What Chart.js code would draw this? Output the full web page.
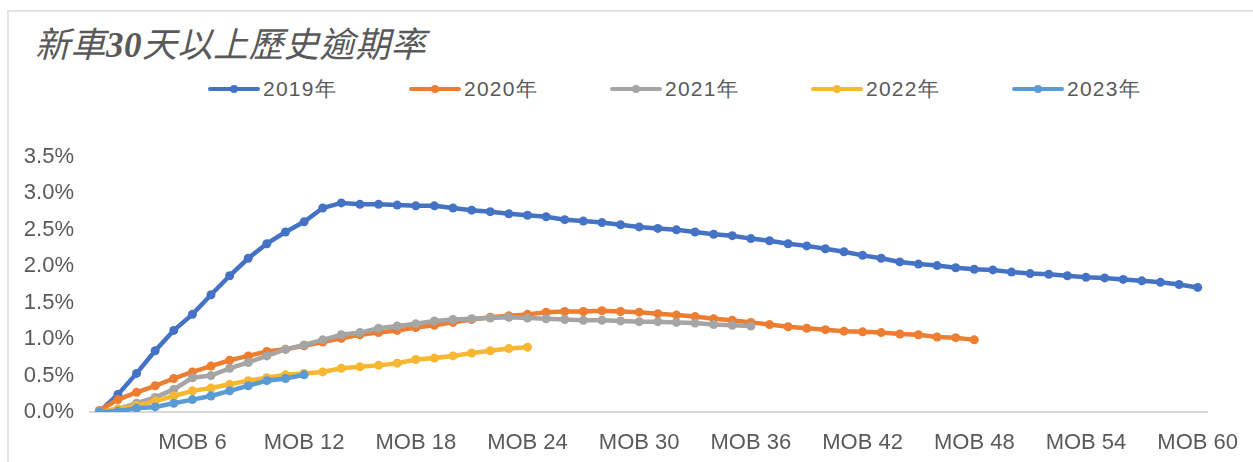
<!DOCTYPE html>
<html lang="zh-Hant">
<head>
    <meta charset="UTF-8">
    <title>新車30天以上歷史逾期率</title>
    <script src="https://cdn.jsdelivr.net/npm/chart.js"></script>
    <style>
        body { margin: 0; background: #fff; }
        #wrap { position: relative; width: 1253px; height: 462px; overflow: hidden; background: #fff; }
        #frame { position: absolute; left: 7px; top: 10px; width: 1300px; height: 500px; border: 2px solid #e3e3e3; }
        #title {
            position: absolute; left: 35px; top: 24px; line-height: 1;
            font-family: "Noto Sans CJK TC", sans-serif; font-style: italic; font-size: 35px;
            letter-spacing: 0.5px; color: #595959; white-space: nowrap;
        }
        #title .num { font-family: "Liberation Serif", serif; font-weight: bold; }
        #legend { position: absolute; left: 208px; top: 76px; display: flex; }
        .item { width: 201px; display: flex; align-items: center; height: 26px; }
        .swatch { position: relative; width: 52px; height: 4px; border-radius: 2px; margin-right: 3px; }
        .swatch i { position: absolute; left: 22px; top: -2px; width: 8px; height: 8px; border-radius: 50%; background: inherit; }
        .label { font-family: "Liberation Sans", Arial, sans-serif; font-size: 21px; letter-spacing: 1.2px; color: #595959; }
        #chart { position: absolute; left: 0; top: 0; }
    </style>
</head>
<body>
<div id="wrap">
    <div id="frame"></div>
    <div id="title">新車<span class="num">30</span>天以上歷史逾期率</div>
    <div id="legend"></div>
    <canvas id="chart" width="1253" height="462"></canvas>
</div>

<script>
    // MOB 1 .. MOB 60
    const mobLabels = Array.from({ length: 60 }, (_, i) => 'MOB ' + (i + 1));

    const seriesNames = ['2019年', '2020年', '2021年', '2022年', '2023年'];
    const seriesColors = ['#4472c4', '#ed7d31', '#a5a5a5', '#f7b731', '#5b9bd5'];

    // values in %
    const y2019 = [
        0.00, 0.24, 0.53, 0.84, 1.12, 1.34, 1.61, 1.87, 2.11, 2.31,
        2.47, 2.61, 2.80, 2.87, 2.85, 2.85, 2.84, 2.83, 2.83, 2.80,
        2.77, 2.75, 2.72, 2.70, 2.68, 2.64, 2.62, 2.60, 2.57, 2.54,
        2.52, 2.50, 2.47, 2.44, 2.42, 2.38, 2.35, 2.31, 2.28, 2.24,
        2.20, 2.15, 2.11, 2.06, 2.03, 2.01, 1.98, 1.96, 1.95, 1.92,
        1.90, 1.89, 1.87, 1.85, 1.84, 1.82, 1.80, 1.78, 1.75, 1.71
    ];
    const y2020 = [
        0.02, 0.17, 0.27, 0.36, 0.46, 0.55, 0.63, 0.71, 0.77, 0.83,
        0.86, 0.91, 0.96, 1.01, 1.06, 1.09, 1.12, 1.16, 1.19, 1.23,
        1.27, 1.30, 1.32, 1.34, 1.37, 1.38, 1.38, 1.39, 1.38, 1.37,
        1.35, 1.33, 1.31, 1.28, 1.26, 1.23, 1.20, 1.17, 1.15, 1.13,
        1.11, 1.10, 1.09, 1.07, 1.06, 1.03, 1.02, 0.99
    ];
    const y2021 = [
        0.00, 0.04, 0.12, 0.20, 0.31, 0.47, 0.50, 0.60, 0.68, 0.77,
        0.86, 0.92, 0.99, 1.06, 1.09, 1.15, 1.18, 1.21, 1.25, 1.27,
        1.28, 1.29, 1.30, 1.29, 1.28, 1.27, 1.26, 1.26, 1.25, 1.24,
        1.24, 1.23, 1.22, 1.20, 1.19, 1.18
    ];
    const y2022 = [
        0.00, 0.04, 0.09, 0.15, 0.22, 0.29, 0.33, 0.38, 0.43, 0.47,
        0.51, 0.53, 0.55, 0.60, 0.62, 0.64, 0.67, 0.72, 0.74, 0.77,
        0.81, 0.84, 0.87, 0.89
    ];
    const y2023 = [
        0.00, 0.01, 0.05, 0.07, 0.12, 0.17, 0.22, 0.29, 0.36, 0.43,
        0.46, 0.51
    ];

    const seriesValues = [y2019, y2020, y2021, y2022, y2023];

    const axisFont = { family: '"Liberation Sans", Arial, sans-serif', size: 22 };
    const textColor = '#595959';

    const datasets = seriesNames.map((name, i) => ({
        label: name,
        data: seriesValues[i],
        borderColor: seriesColors[i],
        backgroundColor: seriesColors[i],
        borderWidth: 4.5,
        pointRadius: 4.5,
        pointBorderWidth: 0,
        pointBackgroundColor: seriesColors[i],
        tension: 0,
        fill: false,
        order: seriesNames.length - i
    }));

    new Chart(document.getElementById('chart'), {
        type: 'line',
        data: { labels: mobLabels, datasets },
        options: {
            responsive: false,
            devicePixelRatio: 1,
            animation: false,
            layout: { padding: { top: 157, right: 46, bottom: 0, left: 0 } },
            plugins: { legend: { display: false }, title: { display: false }, tooltip: { enabled: false } },
            scales: {
                x: {
                    offset: true,
                    grid: { display: false },
                    border: { display: true, color: '#d9d9d9', width: 2 },
                    ticks: {
                        autoSkip: false,
                        maxRotation: 0,
                        padding: 10,
                        color: textColor,
                        font: axisFont,
                        callback: (v, i) => (i + 1) % 6 === 0 ? mobLabels[i] : ''
                    },
                    afterFit: s => { s.height = 50; }
                },
                y: {
                    min: 0,
                    max: 3.5,
                    grid: { display: false },
                    border: { display: false },
                    ticks: {
                        stepSize: 0.5,
                        padding: 8,
                        color: textColor,
                        font: axisFont,
                        callback: v => v.toFixed(1) + '%'
                    },
                    afterFit: s => { s.width = 90; }
                }
            }
        }
    });

    // legend built from the series lists
    const legend = document.getElementById('legend');
    seriesNames.forEach((name, i) => {
        const item = document.createElement('div');
        item.className = 'item';
        const sw = document.createElement('div');
        sw.className = 'swatch';
        sw.style.background = seriesColors[i];
        sw.appendChild(document.createElement('i'));
        const lab = document.createElement('span');
        lab.className = 'label';
        lab.textContent = name;
        item.appendChild(sw);
        item.appendChild(lab);
        legend.appendChild(item);
    });
</script>
</body>
</html>
